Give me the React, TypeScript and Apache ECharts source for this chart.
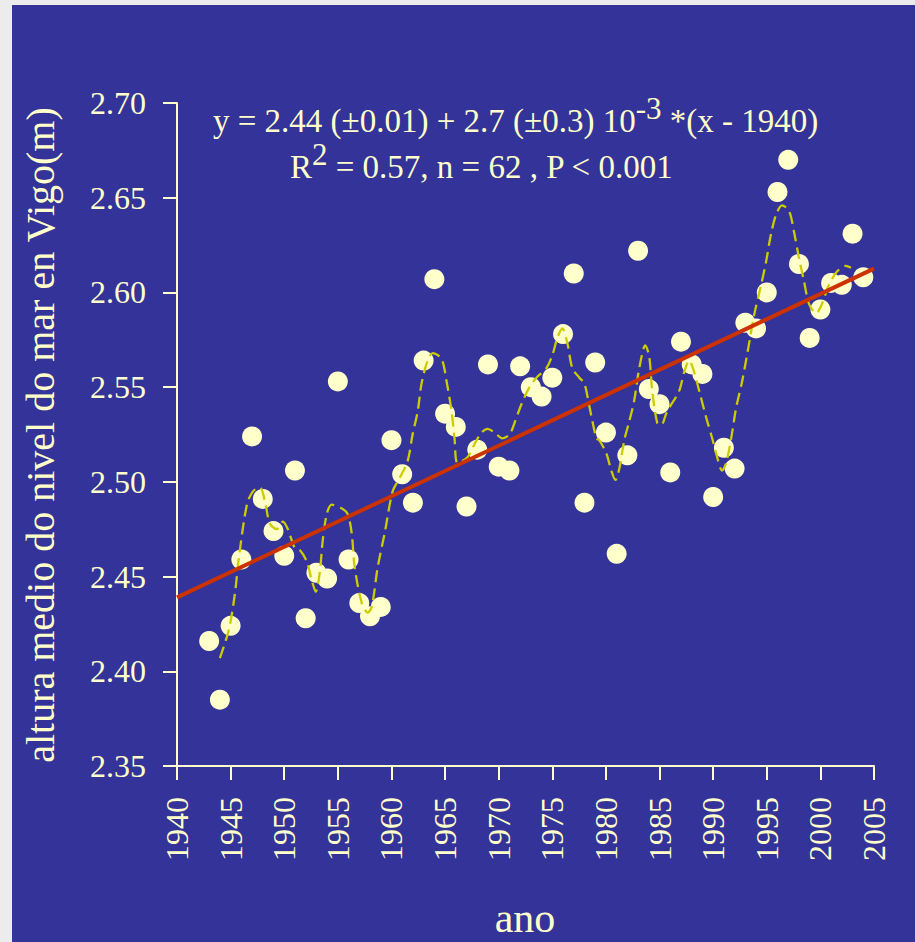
import React, { useEffect, useRef } from 'react';
import * as echarts from 'echarts';

// Annual mean sea level at Vigo (m)
const years = [
  1943, 1944, 1945, 1946, 1947, 1948, 1949, 1950, 1951, 1952,
  1953, 1954, 1955, 1956, 1957, 1958, 1959, 1960, 1961, 1962,
  1963, 1964, 1965, 1966, 1967, 1968, 1969, 1970, 1971, 1972,
  1973, 1974, 1975, 1976, 1977, 1978, 1979, 1980, 1981, 1982,
  1983, 1984, 1985, 1986, 1987, 1988, 1989, 1990, 1991, 1992,
  1993, 1994, 1995, 1996, 1997, 1998, 1999, 2000, 2001, 2002,
  2003, 2004,
];
const seaLevel = [
  2.416, 2.385, 2.424, 2.459, 2.524, 2.491, 2.474, 2.461, 2.506, 2.428,
  2.452, 2.449, 2.553, 2.459, 2.436, 2.429, 2.434, 2.522, 2.504, 2.489,
  2.564, 2.607, 2.536, 2.529, 2.487, 2.517, 2.562, 2.508, 2.506, 2.561,
  2.550, 2.545, 2.555, 2.578, 2.610, 2.489, 2.563, 2.526, 2.462, 2.514,
  2.622, 2.549, 2.541, 2.505, 2.574, 2.562, 2.557, 2.492, 2.518, 2.507,
  2.584, 2.581, 2.600, 2.653, 2.670, 2.615, 2.576, 2.591, 2.605, 2.604,
  2.631, 2.608,
];

// Smoothed (filtered) curve
const smoothYears = [
  1944.0, 1944.84, 1945.4, 1945.77, 1946.52, 1947.08, 1947.73, 1948.19, 1948.66, 1949.31,
  1949.87, 1950.34, 1950.99, 1951.45, 1952.1, 1952.57, 1952.94, 1953.31, 1953.59, 1953.97,
  1954.43, 1955.36, 1955.92, 1956.29, 1956.57, 1957.23, 1957.78, 1958.16, 1958.72, 1959.37,
  1960.11, 1960.76, 1961.51, 1961.97, 1962.44, 1962.81, 1963.37, 1963.84, 1964.67, 1965.14,
  1965.61, 1965.88, 1966.16, 1967.09, 1967.75, 1968.4, 1968.96, 1969.61, 1970.35, 1971.01,
  1971.47, 1972.12, 1972.87, 1973.52, 1974.45, 1975.01, 1975.47, 1975.94, 1976.41, 1976.87,
  1977.52, 1977.99, 1978.45, 1979.11, 1979.38, 1980.04, 1980.5, 1980.88, 1981.25, 1981.71,
  1982.18, 1982.64, 1983.11, 1983.67, 1984.04, 1984.32, 1984.79, 1985.16, 1985.62, 1985.9,
  1986.83, 1987.3, 1987.77, 1988.23, 1988.7, 1989.35, 1989.91, 1990.28, 1990.84, 1991.21,
  1991.68, 1992.14, 1992.7, 1993.35, 1993.82, 1994.47, 1994.93, 1995.4, 1995.87, 1996.42,
  1997.08, 1997.54, 1998.01, 1998.47, 1998.94, 1999.59, 2000.15, 2000.8, 2001.55, 2002.38,
  2002.85,
];
const smoothValues = [
  2.407, 2.422, 2.441, 2.460, 2.488, 2.495, 2.497, 2.490, 2.478, 2.475,
  2.479, 2.475, 2.465, 2.464, 2.458, 2.448, 2.442, 2.452, 2.469, 2.483,
  2.488, 2.486, 2.483, 2.473, 2.455, 2.436, 2.431, 2.434, 2.455, 2.473,
  2.495, 2.502, 2.511, 2.525, 2.537, 2.552, 2.564, 2.568, 2.565, 2.553,
  2.537, 2.523, 2.510, 2.513, 2.520, 2.526, 2.528, 2.526, 2.523, 2.525,
  2.531, 2.541, 2.550, 2.555, 2.560, 2.567, 2.576, 2.581, 2.573, 2.560,
  2.555, 2.552, 2.540, 2.523, 2.522, 2.515, 2.506, 2.501, 2.507, 2.522,
  2.532, 2.543, 2.560, 2.572, 2.566, 2.548, 2.531, 2.530, 2.536, 2.539,
  2.548, 2.558, 2.564, 2.558, 2.548, 2.534, 2.523, 2.515, 2.506, 2.510,
  2.523, 2.539, 2.553, 2.573, 2.588, 2.604, 2.616, 2.631, 2.641, 2.646,
  2.643, 2.632, 2.618, 2.606, 2.594, 2.589, 2.594, 2.604, 2.611, 2.614,
  2.613,
];

// Linear fit: y = a + b * (x - 1940)
const regIntercept = 2.439;
const regSlope = 0.00267;
const regYears = [1940, 2005];

const eqLine1a = 'y = 2.44 (±0.01) + 2.7 (±0.3) 10';
const eqLine1sup = '-3';
const eqLine1b = ' *(x - 1940)';
const eqLine2a = 'R';
const eqLine2sup = '2';
const eqLine2b = ' = 0.57, n = 62 , P < 0.001';
const yTitle = 'altura medio do nivel do mar en Vigo(m)';
const xTitle = 'ano';

export default function App() {
  const ref = useRef<HTMLDivElement>(null);

  useEffect(() => {
    if (!ref.current) return;
    const chart = echarts.init(ref.current, null, { renderer: 'svg' });
    const cream = '#ffffcc';
    const font = 'Liberation Serif';
    const mainSize = 33;
    const supSize = 31;

    const canvas = document.createElement('canvas');
    const ctx = canvas.getContext('2d');
    const measure = (s: string, size: number) => {
      if (!ctx) return s.length * size * 0.5;
      ctx.font = `${size}px "${font}"`;
      return ctx.measureText(s).width;
    };

    const textEl = (text: string, x: number, y: number, size: number) => ({
      type: 'text',
      x,
      y,
      silent: true,
      style: {
        text,
        fill: cream,
        fontFamily: font,
        fontSize: size,
        align: 'left',
        verticalAlign: 'middle',
        textAlign: 'left',
        textVerticalAlign: 'middle',
      },
    });

    const supRaise = 13;
    const eqLine = (a: string, sup: string, b: string, x: number, y: number) => {
      const wa = measure(a, mainSize);
      const ws = measure(sup, supSize);
      return [
        textEl(a, x, y, mainSize),
        textEl(sup, x + wa, y - supRaise, supSize),
        textEl(b, x + wa + ws, y, mainSize),
      ];
    };

    chart.setOption({
      animation: false,
      grid: { left: 165, right: 41, top: 98, bottom: 176 },
      xAxis: {
        type: 'value',
        min: 1940,
        max: 2005,
        interval: 5,
        axisLine: { show: true, onZero: false, lineStyle: { color: cream, width: 2 } },
        axisTick: { show: true, length: 14, lineStyle: { color: cream, width: 2 } },
        axisLabel: {
          rotate: 90,
          margin: 31,
          color: cream,
          fontFamily: font,
          fontSize: 32,
          formatter: (v: number) => String(Math.round(v)),
        },
        splitLine: { show: false },
      },
      yAxis: {
        type: 'value',
        min: 2.35,
        max: 2.7,
        interval: 0.05,
        axisLine: { show: true, onZero: false, lineStyle: { color: cream, width: 2 } },
        axisTick: { show: true, length: 14, lineStyle: { color: cream, width: 2 } },
        axisLabel: {
          margin: 31,
          color: cream,
          fontFamily: font,
          fontSize: 32,
          formatter: (v: number) => v.toFixed(2),
        },
        splitLine: { show: false },
      },
      series: [
        {
          type: 'scatter',
          data: years.map((y, i) => [y, seaLevel[i]]),
          symbol: 'circle',
          symbolSize: 20,
          itemStyle: { color: cream, opacity: 1 },
          z: 2,
        },
        {
          type: 'line',
          data: smoothYears.map((y, i) => [y, smoothValues[i]]),
          showSymbol: false,
          symbol: 'none',
          smooth: 0.3,
          lineStyle: { color: '#cccc00', width: 2.3, type: [12, 6] },
          z: 3,
        },
        {
          type: 'line',
          data: regYears.map((y) => [y, regIntercept + regSlope * (y - 1940)]),
          showSymbol: false,
          symbol: 'none',
          lineStyle: { color: '#cc3300', width: 4 },
          z: 4,
        },
      ],
      graphic: [
        ...eqLine(eqLine1a, eqLine1sup, eqLine1b, 201, 116),
        ...eqLine(eqLine2a, eqLine2sup, eqLine2b, 278, 162),
        {
          type: 'text',
          x: 28,
          y: 430,
          rotation: Math.PI / 2,
          silent: true,
          style: {
            text: yTitle,
            fill: cream,
            fontFamily: font,
            fontSize: 40,
            align: 'center',
            verticalAlign: 'middle',
            textAlign: 'center',
            textVerticalAlign: 'middle',
          },
        },
        {
          type: 'text',
          x: 513,
          y: 913,
          silent: true,
          style: {
            text: xTitle,
            fill: cream,
            fontFamily: font,
            fontSize: 42,
            align: 'center',
            verticalAlign: 'middle',
            textAlign: 'center',
            textVerticalAlign: 'middle',
          },
        },
      ],
    });

    return () => chart.dispose();
  }, []);

  return (
    <div style={{ position: 'absolute', left: 0, top: 0, width: 915, height: 942, background: '#ececec' }}>
      <div
        ref={ref}
        style={{ position: 'absolute', left: 12, top: 5, width: 903, height: 937, background: '#333399' }}
      />
    </div>
  );
}
